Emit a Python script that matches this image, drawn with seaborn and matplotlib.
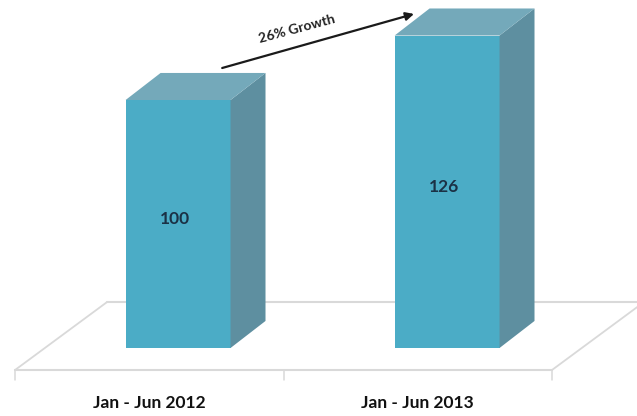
import matplotlib
matplotlib.use("Agg")
import matplotlib.pyplot as plt
from matplotlib.patches import Polygon
import seaborn as sns
import pandas as pd

# Data
periods = ["Jan - Jun 2012", "Jan - Jun 2013"]
index_values = [100, 126]
growth_label = "26% Growth"

sns.set_theme(style="white")
plt.rcParams["font.family"] = ["Lato", "DejaVu Sans"]

FRONT = "#4BACC6"
SIDE = "#5E8FA0"
TOP = "#74A9BA"
FLOOR = "#D9D9D9"
VALUE_TXT = "#1B3145"

fig = plt.figure(figsize=(6.37, 4.16), dpi=100)
ax = fig.add_axes([0, 0, 1, 1])

df = pd.DataFrame({"period": periods, "value": index_values})
sns.barplot(data=df, x="period", y="value", color=FRONT, saturation=1,
            width=0.39, ax=ax, zorder=3, linewidth=0)

ax.set_xlim(-0.662, 1.706)
ax.set_ylim(-27.42, 140.32)
ax.set_axis_off()

# depth offset of each box (x in category units, y in value units)
ddx, ddy = 0.130, 10.9

for p in ax.patches[:len(index_values)]:
    x0, y0 = p.get_x(), p.get_y()
    w, h = p.get_width(), p.get_height()
    x1, y1 = x0 + w, y0 + h
    side = Polygon([(x1, y0), (x1 + ddx, y0 + ddy), (x1 + ddx, y1 + ddy), (x1, y1)],
                   closed=True, facecolor=SIDE, edgecolor="none", zorder=3)
    top = Polygon([(x0, y1), (x0 + ddx, y1 + ddy), (x1 + ddx, y1 + ddy), (x1, y1)],
                  closed=True, facecolor=TOP, edgecolor="none", zorder=3)
    ax.add_patch(side)
    ax.add_patch(top)

# Value labels on the front faces
for i, v in enumerate(index_values):
    ax.text(i - 0.01, v / 2 + 2, f"{v}", ha="center", va="center",
            fontsize=12.5, fontweight="bold", color=VALUE_TXT, zorder=5)

# Floor plane under the bars
fx0, fx1, fy = -0.606, 1.390, -8.87
bdx, bdy = 0.342, 27.4
ax.plot([fx0, fx1], [fy, fy], color=FLOOR, lw=1.5, zorder=1)
ax.plot([fx0, fx0 + bdx], [fy, fy + bdy], color=FLOOR, lw=1.3, zorder=1)
ax.plot([fx0 + bdx, fx1 + bdx], [fy + bdy, fy + bdy], color=FLOOR, lw=1.5, zorder=1)
ax.plot([fx1, fx1 + bdx], [fy, fy + bdy], color=FLOOR, lw=1.3, zorder=1)
mid = (fx0 + fx1) / 2
for tx in (fx0, mid, fx1):
    ax.plot([tx, tx], [fy, fy - 4.0], color=FLOOR, lw=1.1, zorder=1)

# Category labels, centred under each floor segment
for i, lab in enumerate(periods):
    cx = fx0 + (fx1 - fx0) * (2 * i + 1) / 4
    ax.text(cx, -22.2, lab, ha="center", va="center", fontsize=12.5,
            fontweight="bold", color="#111111")

# Growth arrow between the two bars
ax.annotate("", xy=(0.877, 134.7), xytext=(0.164, 112.9),
            arrowprops=dict(arrowstyle="-|>", color="#1a1a1a", lw=1.6,
                            mutation_scale=12, shrinkA=0, shrinkB=0), zorder=6)
ax.text(0.44, 128.8, growth_label, ha="center", va="center", rotation=15,
        fontsize=10, fontweight="bold", color="#222222", zorder=6)

fig.savefig("out.png", dpi=100)
